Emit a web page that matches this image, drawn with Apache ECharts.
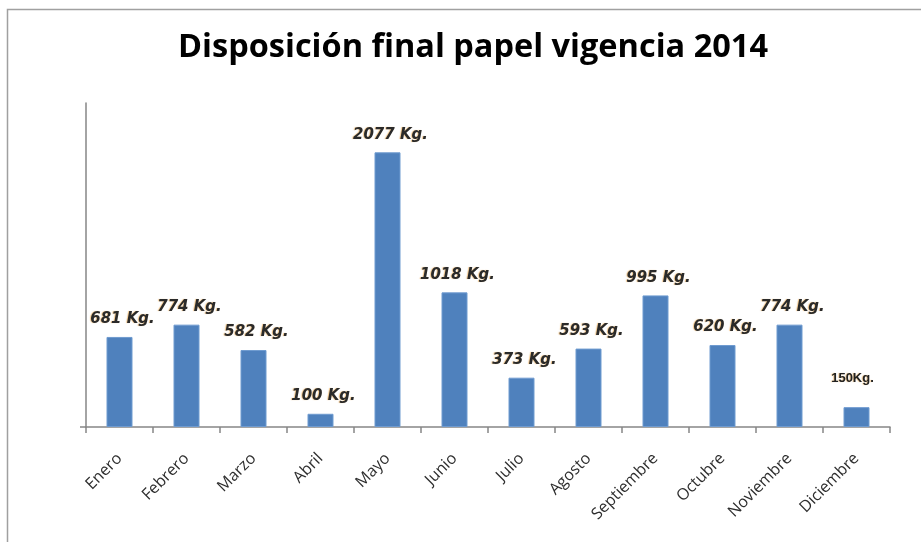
<!DOCTYPE html>
<html>
<head>
<meta charset="utf-8">
<script src="https://cdn.jsdelivr.net/npm/echarts@6/dist/echarts.min.js"></script>
<style>html,body{margin:0;padding:0;background:#fff}#c{width:921px;height:542px}</style>
</head>
<body>
<div id="c"></div>
<script>
const titleText = 'Disposición final papel vigencia 2014';
const categories = ['Enero','Febrero','Marzo','Abril','Mayo','Junio','Julio','Agosto','Septiembre','Octubre','Noviembre','Diciembre'];
const values = [681, 774, 582, 100, 2077, 1018, 373, 593, 995, 620, 774, 150];
const labelTexts = ['681 Kg.','774 Kg.','582 Kg.','100 Kg.','2077 Kg.','1018 Kg.','373 Kg.','593 Kg.','995 Kg.','620 Kg.','774 Kg.','150Kg.'];

const chart = echarts.init(document.getElementById('c'));
const handLabel = {
  show: true, position: 'top', distance: 10, offset: [3, 0],
  fontFamily: 'DejaVu Sans', fontStyle: 'oblique', fontWeight: 'bold', fontSize: 15,
  color: '#2a2a2a', textShadowColor: 'rgba(230,150,40,0.55)', textShadowBlur: 1, textShadowOffsetX: -1
};
const data = values.map((v, i) => {
  const item = { value: v, label: Object.assign({}, handLabel, { formatter: labelTexts[i] }) };
  if (i === 11) {
    item.label = { show: true, position: 'top', distance: 22, offset: [-4, 0], formatter: labelTexts[i],
      fontFamily: 'Liberation Sans', fontWeight: 'bold', fontSize: 13, letterSpacing: -0.6, color: '#222',
      textShadowColor: 'rgba(230,150,40,0.5)', textShadowBlur: 1, textShadowOffsetX: -1 };
  }
  return item;
});

chart.setOption({
  animation: false,
  graphic: [{ type: 'rect', left: 5, top: 7, shape: { width: 940, height: 560 }, style: { fill: 'none', stroke: '#a0a0a0', lineWidth: 1.5 }, silent: true }],
  title: { text: titleText, left: 173, top: 26, textStyle: { fontFamily: 'Open Sans', fontWeight: 'bold', fontSize: 32.5, color: '#000' } },
  grid: { left: 86, right: 31, top: 103, bottom: 115 },
  xAxis: {
    type: 'category', data: categories,
    axisLine: { lineStyle: { color: '#868686', width: 1.5 } },
    axisTick: { show: true, alignWithLabel: false, length: 6, lineStyle: { color: '#868686', width: 1.5 } },
    axisLabel: { rotate: 45, interval: 0, margin: 29, fontFamily: 'Open Sans', fontSize: 16, color: '#2e2e2e' }
  },
  yAxis: {
    type: 'value', min: 0, max: 2450,
    splitLine: { show: false },
    axisLabel: { show: false },
    axisLine: { show: true, lineStyle: { color: '#868686', width: 1.5 } },
    axisTick: { show: true, customValues: [0], length: 6, lineStyle: { color: '#868686', width: 1.5 } }
  },
  series: [{
    type: 'bar', data: data, barWidth: 26,
    itemStyle: { color: '#4F81BD', borderColor: '#6f9bd0', borderWidth: 1 }
  }]
});
</script>
</body>
</html>
